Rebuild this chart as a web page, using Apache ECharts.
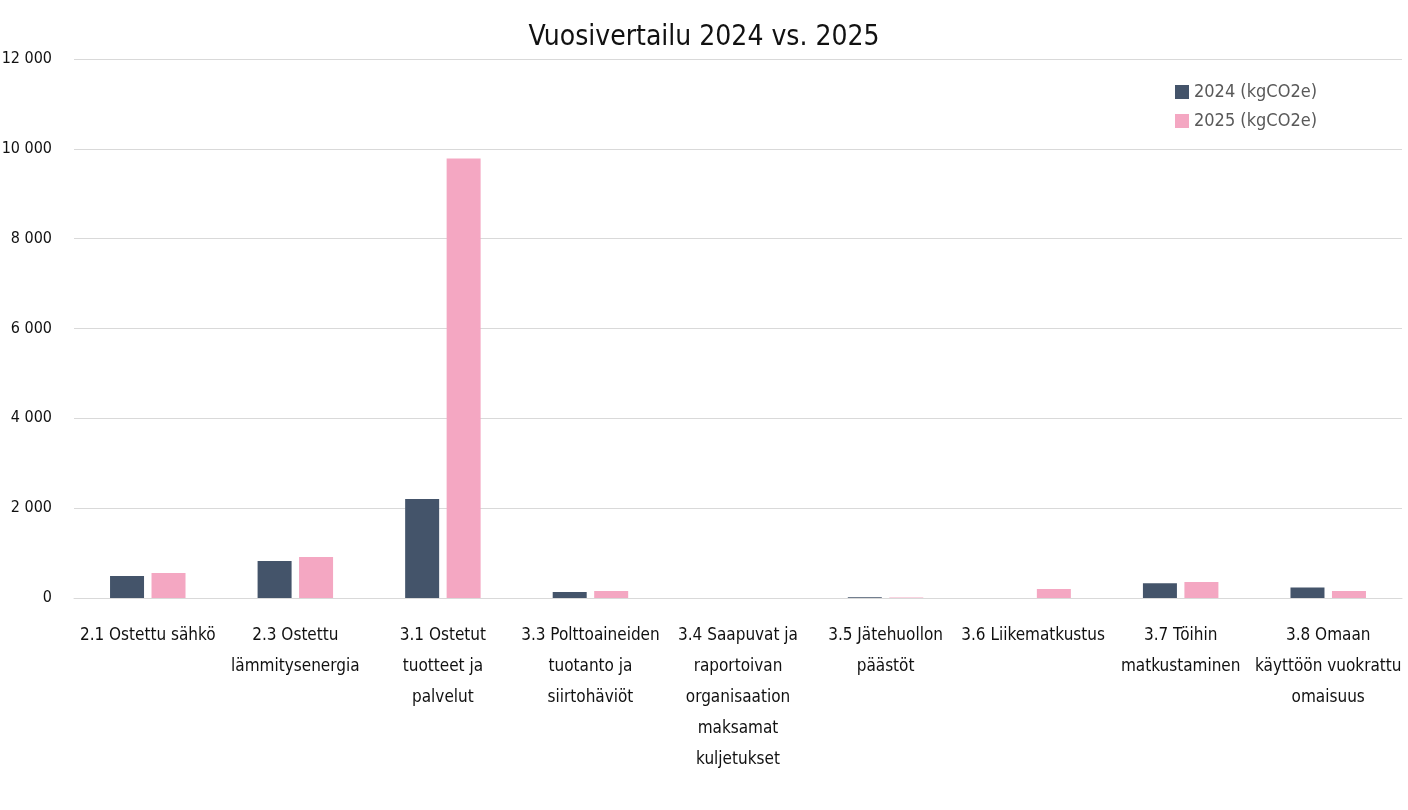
<!DOCTYPE html>
<html>
<head>
<meta charset="utf-8">
<script src="https://cdn.jsdelivr.net/npm/echarts@6/dist/echarts.min.js"></script>
<style>
  html, body { margin: 0; padding: 0; background: #fff; }
  #chart { width: 1408px; height: 810px; }
</style>
</head>
<body>
<div id="chart"></div>
<script>
const categories = [
  '2.1 Ostettu sähkö',
  '2.3 Ostettu\nlämmitysenergia',
  '3.1 Ostetut\ntuotteet ja\npalvelut',
  '3.3 Polttoaineiden\ntuotanto ja\nsiirtohäviöt',
  '3.4 Saapuvat ja\nraportoivan\norganisaation\nmaksamat\nkuljetukset',
  '3.5 Jätehuollon\npäästöt',
  '3.6 Liikematkustus',
  '3.7 Töihin\nmatkustaminen',
  '3.8 Omaan\nkäyttöön vuokrattu\nomaisuus'
];
const seriesNames = ['2024 (kgCO2e)', '2025 (kgCO2e)'];
const values2024 = [490, 824, 2205, 134, 0, 15, 0, 327, 232];
const values2025 = [557, 913, 9784, 156, 0, 10, 200, 356, 156];
const yTicks = { min: 0, max: 12000, interval: 2000 };

const font = '"DejaVu Sans Condensed", "Liberation Sans Narrow", "Roboto", sans-serif';

function fmt(v) {
  return String(v).replace(/\B(?=(\d{3})+(?!\d))/g, ' ');
}

let chart = echarts.init(document.getElementById('chart'));

let options = {
  animation: false,
  textStyle: { fontFamily: font },
  title: {
    text: 'Vuosivertailu 2024 vs. 2025',
    left: 'center',
    top: 19,
    textStyle: { fontFamily: font, fontSize: 28, fontWeight: 'normal', color: '#111' }
  },
  legend: {
    orient: 'vertical',
    left: 1170,
    top: 78,
    itemWidth: 14,
    itemHeight: 14,
    itemGap: 11,
    icon: 'rect',
    data: seriesNames,
    textStyle: { fontFamily: font, fontSize: 18, color: '#595959' }
  },
  grid: { left: 74, right: 6, top: 59, bottom: 212, outerBoundsMode: 'none', containLabel: false },
  xAxis: {
    type: 'category',
    data: categories,
    axisLine: { lineStyle: { color: '#d9d9d9', width: 1 } },
    axisTick: { show: false },
    axisLabel: {
      interval: 0,
      margin: 22,
      color: '#111',
      fontFamily: font,
      fontSize: 17,
      lineHeight: 31,
      align: 'center'
    }
  },
  yAxis: {
    type: 'value',
    min: yTicks.min,
    max: yTicks.max,
    interval: yTicks.interval,
    axisLine: { show: false },
    axisTick: { show: false },
    splitLine: { lineStyle: { color: '#d9d9d9', width: 1 } },
    axisLabel: {
      margin: 22,
      color: '#111',
      fontFamily: font,
      fontSize: 16,
      formatter: fmt
    }
  },
  series: [{
    name: seriesNames[0],
    type: 'bar',
    data: values2024,
    barWidth: 34,
    barGap: '22%',
    itemStyle: { color: '#44546a' }
  }, {
    name: seriesNames[1],
    type: 'bar',
    data: values2025,
    barWidth: 34,
    itemStyle: { color: '#f4a7c2' }
  }]
};

chart.setOption(options);

window.addEventListener('resize', function() {
  chart.resize();
});
</script>
</body>
</html>
